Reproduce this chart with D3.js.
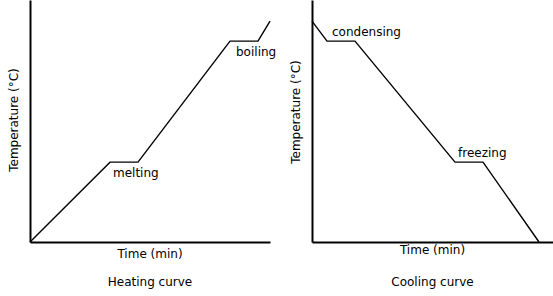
<!DOCTYPE html>
<html>
<head>
<meta charset="utf-8">
<script src="https://cdn.jsdelivr.net/npm/d3@7"></script>
<style>
  body { margin: 0; background: #fff; }
  text { font-family: "DejaVu Sans", sans-serif; font-size: 12px; fill: #000; }
</style>
</head>
<body>
<div id="chart"></div>
<script>
// heating curve (time in min, temperature in deg C)
var heatTime = [0, 8, 10.8, 20, 22.8, 24];
var heatTemp = [-66, 0, 0, 100, 100, 116.6];
// cooling curve
var coolTime = [0, 1.5, 4.3, 14.3, 17.1, 22.7];
var coolTemp = [116.6, 100, 100, 0, 0, -66];

var heatLabels = [{text: "melting", t: 8.3, v: -12.5}, {text: "boiling", t: 20.6, v: 87.5}];
var coolLabels = [{text: "condensing", t: 2.0, v: 104.5}, {text: "freezing", t: 14.6, v: 4}];

var w = 553, h = 296;
var svg = d3.select("#chart").append("svg")
  .attr("width", w)
  .attr("height", h);

function drawPanel(left, axisRight, times, temps, labels, title, ylabelY, xlabelY) {
  var x = d3.scaleLinear().domain([0, 24]).range([left, left + 240]);
  var y = d3.scaleLinear().domain([-66, 134]).range([242, 0]);
  var g = svg.append("g");

  var pts = times.map((t, i) => [t, temps[i]]);
  g.append("path")
    .datum(pts)
    .attr("fill", "none")
    .attr("stroke", "#000")
    .attr("stroke-width", 1.4)
    .attr("d", d3.line().x(d => x(d[0])).y(d => y(d[1])));

  g.append("g")
    .attr("transform", "translate(0," + y(-66) + ")")
    .call(d3.axisBottom(x.copy().range([left, axisRight])).tickValues([]).tickSizeOuter(0))
    .select(".domain").attr("stroke-width", 2);
  g.append("g")
    .attr("transform", "translate(" + left + ",0)")
    .call(d3.axisLeft(y).tickValues([]).tickSizeOuter(0))
    .select(".domain").attr("stroke-width", 2);

  labels.forEach(function (l) {
    g.append("text")
      .attr("x", x(l.t))
      .attr("y", y(l.v))
      .text(l.text);
  });

  g.append("text")
    .attr("x", (left + axisRight) / 2)
    .attr("y", xlabelY)
    .attr("text-anchor", "middle")
    .text("Time (min)");
  g.append("text")
    .attr("x", (left + axisRight) / 2)
    .attr("y", 286)
    .attr("text-anchor", "middle")
    .text(title);
  g.append("text")
    .attr("transform", "translate(" + (left - 12) + "," + ylabelY + ") rotate(-90)")
    .attr("text-anchor", "middle")
    .text("Temperature (°C)");
}

drawPanel(30, 270, heatTime, heatTemp, heatLabels, "Heating curve", 120, 258);
drawPanel(312, 553, coolTime, coolTemp, coolLabels, "Cooling curve", 112, 254);
</script>
</body>
</html>
